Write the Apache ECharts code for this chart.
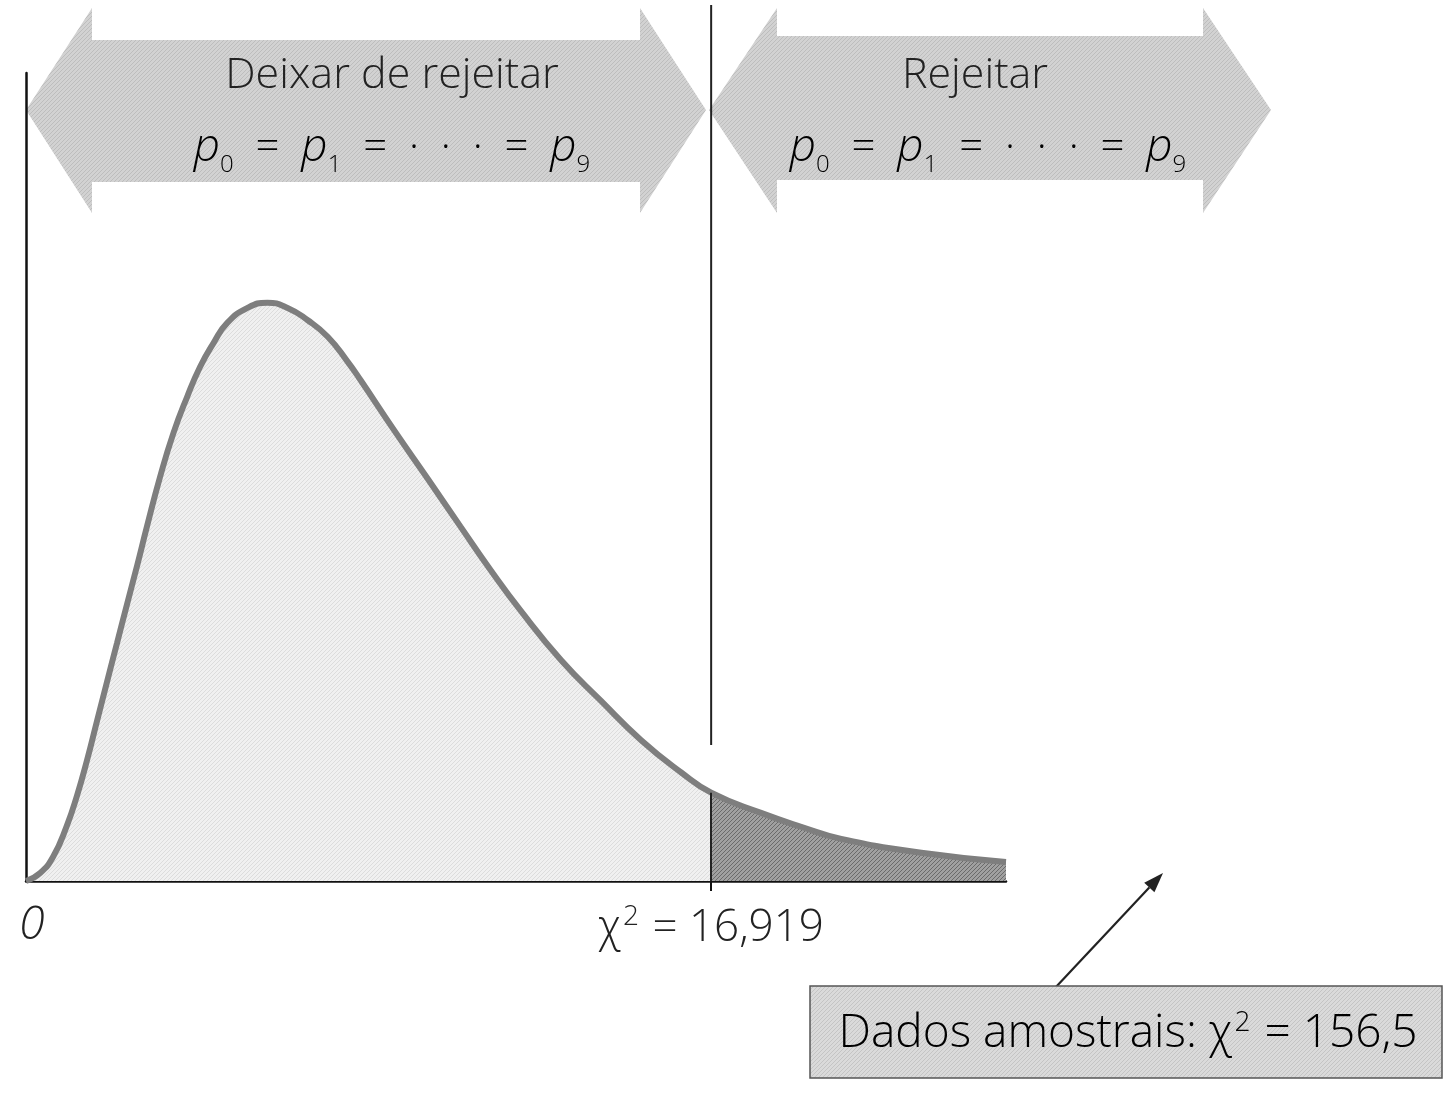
<!DOCTYPE html>
<html>
<head>
<meta charset="utf-8">
<script src="https://cdn.jsdelivr.net/npm/echarts@6/dist/echarts.min.js"></script>
<style>
  html, body { margin: 0; padding: 0; background: #fff; }
  #chart { width: 1451px; height: 1093px; }
</style>
</head>
<body>
<div id="chart"></div>
<script>
// --- Data ---
const critValue = 16.919;
const curveX = [0, 0.35, 0.67, 1.01, 1.26, 1.51, 1.76, 2.00, 2.25, 2.50, 2.75, 2.99, 3.31, 3.64, 3.98,
    4.30, 4.63, 4.97, 5.47, 5.96, 6.46, 6.95, 7.45, 7.94, 8.26, 9.08, 9.92, 10.73, 11.48, 12.22,
    13.21, 14.20, 15.19, 16.18, 16.919, 18.15, 19.14, 20.13, 22.11, 24.2];
const curveY = [0, 0.0014, 0.0042, 0.0096, 0.0148, 0.0210, 0.0279, 0.0345, 0.0413, 0.0481, 0.0548, 0.0615, 0.0700, 0.0776, 0.0839,
    0.0891, 0.0932, 0.0967, 0.0993, 0.1002, 0.0993, 0.0972, 0.0943, 0.0900, 0.0868, 0.0782, 0.0697, 0.0614, 0.0538, 0.0468,
    0.0383, 0.0312, 0.0244, 0.0188, 0.0153, 0.0118, 0.0094, 0.0073, 0.0049, 0.0033];
const xTickValues = [0, critValue];
const xTickLabels = ['0', 'χ', '2', ' = 16,919'];
const leftTitle = 'Deixar de rejeitar';
const rightTitle = 'Rejeitar';
const sampleLabel = ['Dados amostrais: χ', '2', ' = 156,5'];

const FONT = '"Open Sans", "DejaVu Sans", sans-serif';

// --- hatch texture like the printed greys ---
function hatch(bg, fg) {
    const c = document.createElement('canvas');
    c.width = 4; c.height = 4;
    const ctx = c.getContext('2d');
    ctx.fillStyle = bg;
    ctx.fillRect(0, 0, 4, 4);
    ctx.strokeStyle = fg;
    ctx.lineWidth = 1;
    ctx.beginPath();
    ctx.moveTo(0, 4); ctx.lineTo(4, 0);
    ctx.stroke();
    return { image: c, repeat: 'repeat' };
}

const points = curveX.map((x, i) => [x, curveY[i]]);
const leftPts = points.filter(p => p[0] <= critValue);
const rightPts = points.filter(p => p[0] >= critValue);
const SMOOTH = 0.5;

const chart = echarts.init(document.getElementById('chart'));

chart.setOption({
    animation: false,
    grid: { left: 26, right: 445, top: 73, bottom: 212 },
    xAxis: {
        type: 'value', min: 0, max: 24.2,
        splitLine: { show: false },
        axisLine: { lineStyle: { color: '#111', width: 2.5 } },
        axisTick: { show: true, customValues: [critValue], length: 10, lineStyle: { color: '#111', width: 2 } },
        axisLabel: {
            customValues: xTickValues,
            margin: 22,
            formatter: v => v === 0
                ? '{i|' + xTickLabels[0] + '}'
                : '{t|' + xTickLabels[1] + '}{sup|' + xTickLabels[2] + '}{t|' + xTickLabels[3] + '}',
            rich: {
                i: { fontFamily: FONT, fontSize: 46, fontStyle: 'italic', fontWeight: 300, color: '#222', padding: [0, 0, 0, 12] },
                t: { fontFamily: FONT, fontSize: 44, fontWeight: 300, color: '#222' },
                sup: { fontFamily: FONT, fontSize: 28, fontWeight: 300, color: '#222', padding: [0, 2, 22, 2] }
            }
        }
    },
    yAxis: {
        type: 'value', min: 0, max: 0.14,
        splitLine: { show: false },
        axisLine: { show: true, lineStyle: { color: '#111', width: 2.5 } },
        axisTick: { show: false },
        axisLabel: { show: false }
    },
    series: [
        {
            type: 'line', data: leftPts, smooth: SMOOTH, symbol: 'none',
            lineStyle: { width: 0 },
            areaStyle: { color: hatch('#f0f0f0', '#dcdcdc'), opacity: 1 }
        },
        {
            type: 'line', data: rightPts, smooth: SMOOTH, symbol: 'none',
            lineStyle: { width: 0 },
            areaStyle: { color: hatch('#a0a0a0', '#6a6a6a'), opacity: 1 },
            markLine: {
                silent: true, symbol: 'none', label: { show: false },
                lineStyle: { color: '#222', width: 2, type: 'solid' },
                data: [[{ coord: [critValue, 0] }, { coord: [critValue, curveY[curveX.indexOf(critValue)]] }]]
            }
        },
        {
            type: 'line', data: points, smooth: SMOOTH, symbol: 'none',
            lineStyle: { color: '#7e7e7e', width: 6 }
        }
    ]
});

// --- decorations: arrows, critical line, callout ---
const xc = chart.convertToPixel({ xAxisIndex: 0 }, critValue);
const arrowFill = hatch('#d2d2d2', '#bdbdbd');

function doubleArrow(x0, x1, headW, bodyTop, bodyBot, headTop, headBot, mid) {
    return [[x0, mid], [x0 + headW, headTop], [x0 + headW, bodyTop], [x1 - headW, bodyTop], [x1 - headW, headTop],
        [x1, mid], [x1 - headW, headBot], [x1 - headW, bodyBot], [x0 + headW, bodyBot], [x0 + headW, headBot]];
}

function pointer(x0, y0, x1, y1) {
    const dx = x1 - x0, dy = y1 - y0, len = Math.sqrt(dx * dx + dy * dy);
    const ux = dx / len, uy = dy / len, hl = 20, hw = 7;
    const bx = x1 - ux * hl, by = y1 - uy * hl;
    return [
        { type: 'line', shape: { x1: x0, y1: y0, x2: bx, y2: by }, style: { stroke: '#222', lineWidth: 2.2 } },
        { type: 'polygon', shape: { points: [[x1, y1], [bx - uy * hw, by + ux * hw], [bx + uy * hw, by - ux * hw]] }, style: { fill: '#222' } }
    ];
}

const pRich = {
    p: { fontFamily: FONT, fontSize: 46, fontStyle: 'italic', fontWeight: 300, color: '#222' },
    e: { fontFamily: FONT, fontSize: 42, fontWeight: 300, color: '#222' },
    s: { fontFamily: FONT, fontSize: 24, fontWeight: 300, color: '#222', padding: [34, 0, 0, 0] }
};
const pText = '{p|p}{s|0}{e|  =  }{p|p}{s|1}{e|  =  ·  ·  ·  =  }{p|p}{s|9}';
const supRich = {
    t: { fontFamily: FONT, fontSize: 46, fontWeight: 300, color: '#222' },
    sup: { fontFamily: FONT, fontSize: 28, fontWeight: 300, color: '#222', padding: [0, 2, 22, 2] }
};

chart.setOption({
    graphic: [
        { type: 'polygon', shape: { points: doubleArrow(26, 706, 66, 40, 182, 8, 213, 110) }, style: { fill: arrowFill } },
        { type: 'polygon', shape: { points: doubleArrow(709, 1271, 68, 36, 180, 8, 213, 110) }, style: { fill: arrowFill } },
        { type: 'line', shape: { x1: xc, y1: 5, x2: xc, y2: 745 }, style: { stroke: '#222', lineWidth: 2 } },
        { type: 'text', x: 392, y: 76, style: { text: leftTitle, font: '300 43px ' + FONT, fill: '#222', textAlign: 'center', textVerticalAlign: 'middle' } },
        { type: 'text', x: 392, y: 148, style: { text: pText, rich: pRich, textAlign: 'center', textVerticalAlign: 'middle' } },
        { type: 'text', x: 975, y: 76, style: { text: rightTitle, font: '300 43px ' + FONT, fill: '#222', textAlign: 'center', textVerticalAlign: 'middle' } },
        { type: 'text', x: 988, y: 148, style: { text: pText, rich: pRich, textAlign: 'center', textVerticalAlign: 'middle' } },
        ...pointer(1055, 988, 1163, 873),
        { type: 'rect', shape: { x: 810, y: 986, width: 632, height: 92 }, style: { fill: hatch('#dadada', '#c4c4c4'), stroke: '#555', lineWidth: 1.5 } },
        {
            type: 'text', x: 1128, y: 1034,
            style: {
                text: '{t|' + sampleLabel[0] + '}{sup|' + sampleLabel[1] + '}{t|' + sampleLabel[2] + '}',
                rich: supRich, textAlign: 'center', textVerticalAlign: 'middle'
            }
        }
    ]
});
</script>
</body>
</html>
